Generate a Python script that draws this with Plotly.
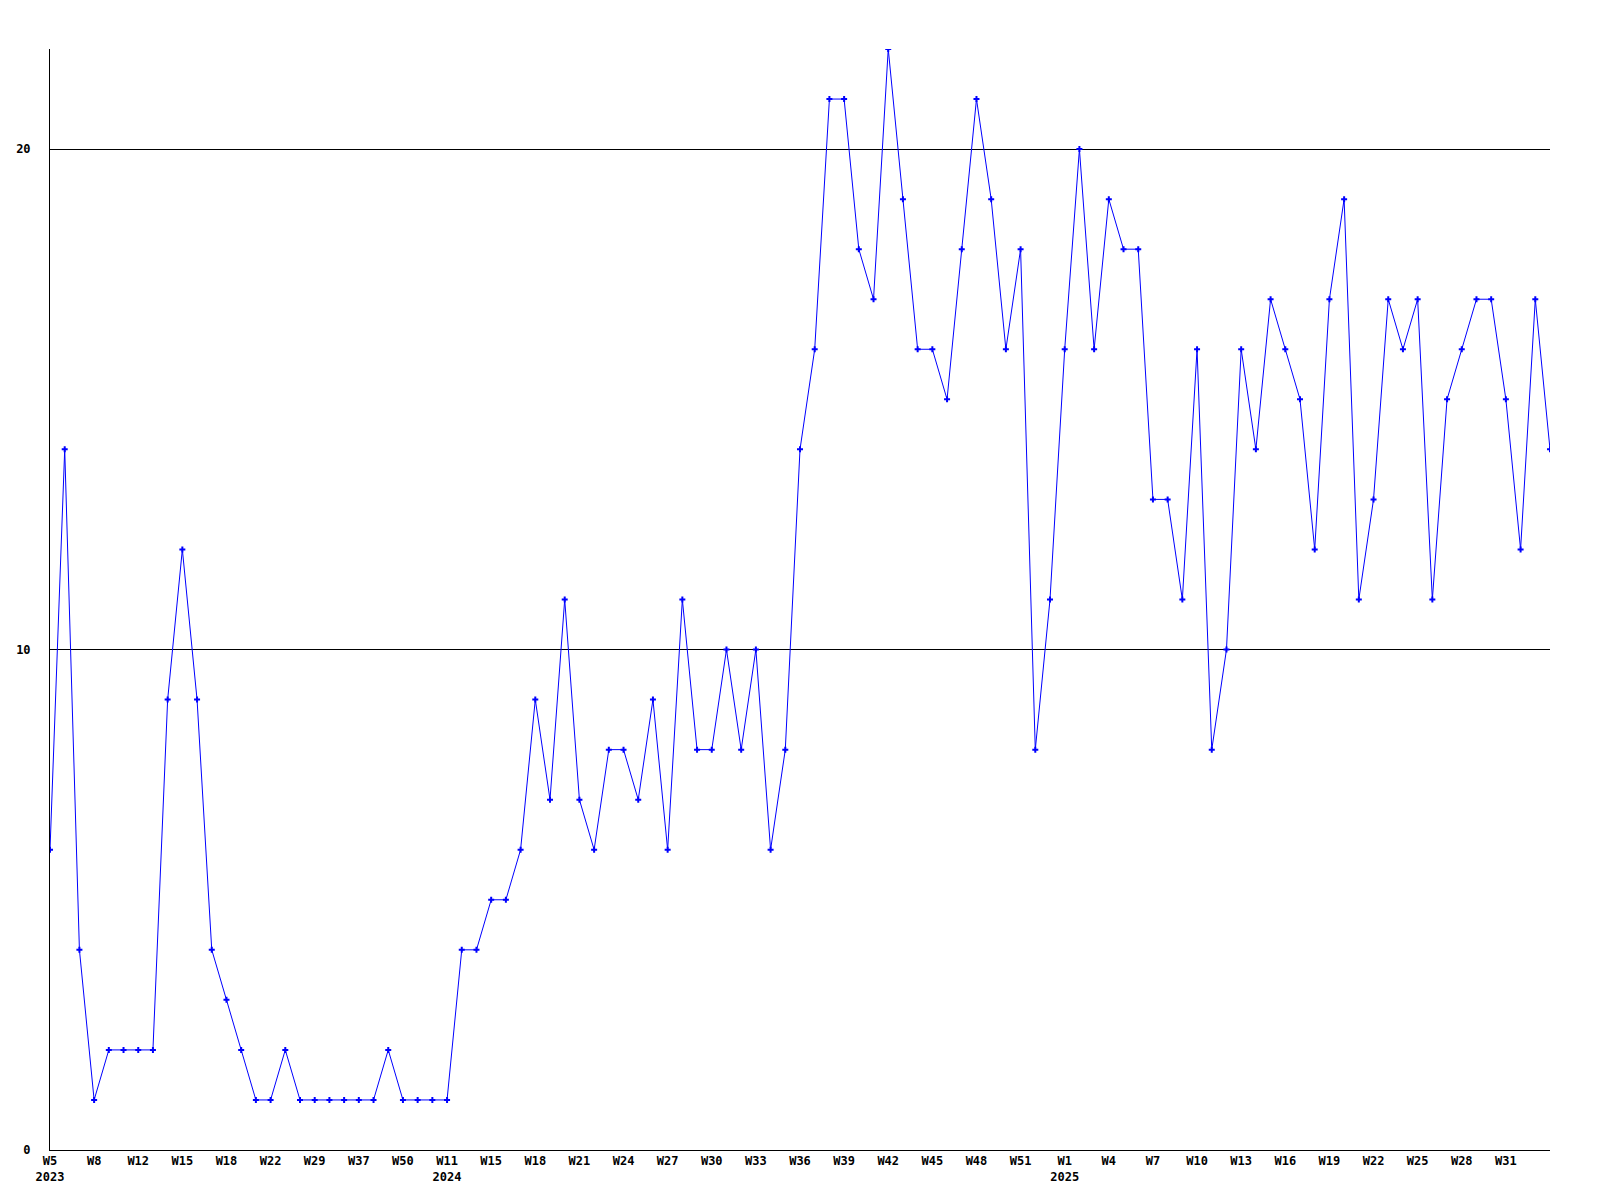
import plotly.graph_objects as go

# Week labels (categorical, only weeks with data)
weeks = [
    "W5", "W6", "W7", "W8", "W9", "W10", "W12", "W13", "W14", "W15", "W16", "W17",
    "W18", "W19", "W20", "W22", "W24", "W27", "W29", "W31", "W34", "W37", "W41", "W46",
    "W50", "W3", "W7", "W11", "W12", "W13", "W15", "W16", "W17", "W18", "W19", "W20",
    "W21", "W22", "W23", "W24", "W25", "W26", "W27", "W28", "W29", "W30", "W31", "W32",
    "W33", "W34", "W35", "W36", "W37", "W38", "W39", "W40", "W41", "W42", "W43", "W44",
    "W45", "W46", "W47", "W48", "W49", "W50", "W51", "W52", "W53", "W1", "W2", "W3",
    "W4", "W5", "W6", "W7", "W8", "W9", "W10", "W11", "W12", "W13", "W14", "W15",
    "W16", "W17", "W18", "W19", "W20", "W21", "W22", "W23", "W24", "W25", "W26", "W27",
    "W28", "W29", "W30", "W31", "W32", "W33", "W34",
]
years = [2023] * 25 + [2024] * 44 + [2025] * 34

values = [
    6, 14, 4, 1, 2, 2, 2, 2, 9, 12, 9, 4,
    3, 2, 1, 1, 2, 1, 1, 1, 1, 1, 1, 2,
    1, 1, 1, 1, 4, 4, 5, 5, 6, 9, 7, 11,
    7, 6, 8, 8, 7, 9, 6, 11, 8, 8, 10, 8,
    10, 6, 8, 14, 16, 21, 21, 18, 17, 22, 19, 16,
    16, 15, 18, 21, 19, 16, 18, 8, 11, 16, 20, 16,
    19, 18, 18, 13, 13, 11, 16, 8, 10, 16, 14, 17,
    16, 15, 12, 17, 19, 11, 13, 17, 16, 17, 11, 15,
    16, 17, 17, 15, 12, 17, 14,
]

y_ticks = [0, 10, 20]

x_idx = list(range(len(values)))

# tick labels every 3rd category (not the final partial group), year under first tick of each year
tickvals, ticktext = [], []
seen_years = set()
for i in range(0, len(values) - 3, 3):
    label = weeks[i]
    if years[i] not in seen_years:
        seen_years.add(years[i])
        label = f"{label}<br>{years[i]}"
    tickvals.append(i)
    ticktext.append(label)

fig = go.Figure()
fig.add_trace(go.Scatter(
    x=x_idx, y=values, mode="lines+markers",
    line=dict(color="#0000ff", width=1),
    marker=dict(symbol="cross", size=5, color="#0000ff", line=dict(width=0)),
    hoverinfo="skip", showlegend=False,
))

font = dict(family="DejaVu Sans Mono", size=12, color="black", weight="bold")

fig.update_layout(
    width=1584, height=1184,
    margin=dict(l=42, r=42, t=41, b=42),
    paper_bgcolor="white", plot_bgcolor="white",
    xaxis=dict(
        range=[0, len(values) - 1],
        tickmode="array", tickvals=tickvals, ticktext=ticktext,
        showgrid=False, zeroline=False, automargin=False,
        showline=True, linecolor="black", linewidth=1,
        ticks="", tickfont=font,
    ),
    yaxis=dict(
        range=[0, 22],
        tickmode="array", tickvals=y_ticks, ticktext=[str(v) for v in y_ticks],
        showgrid=True, gridcolor="black", gridwidth=1,
        zeroline=False, automargin=False,
        showline=True, linecolor="black", linewidth=1,
        ticks="outside", ticklen=16, tickcolor="white",
        tickfont=font,
    ),
)

fig.write_html("out.html")
